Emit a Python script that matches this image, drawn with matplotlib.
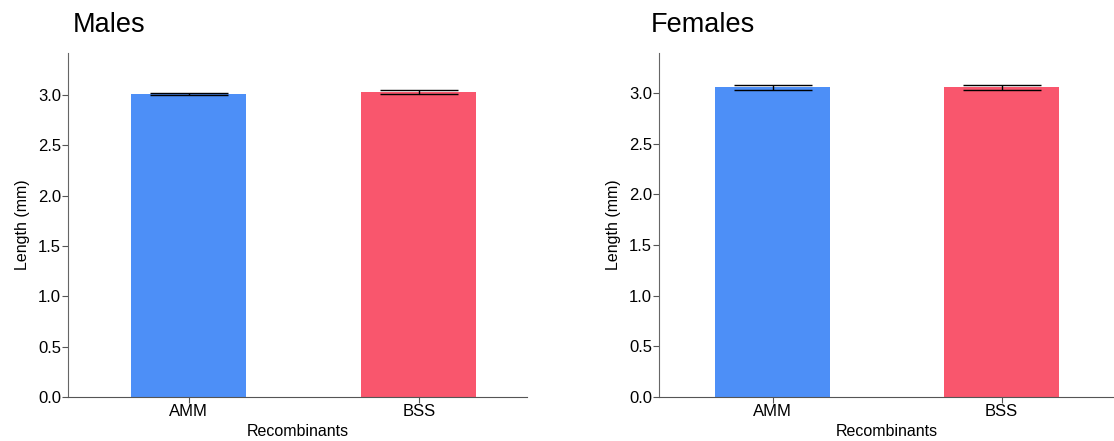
import matplotlib
matplotlib.use("Agg")
import matplotlib.pyplot as plt

plt.rcParams["font.family"] = ["Liberation Sans", "DejaVu Sans"]

# data
groups = ["AMM", "BSS"]
males_mean = [3.01, 3.03]
males_err = [0.013, 0.022]
females_mean = [3.055, 3.055]
females_err = [0.025, 0.022]
colors = ["#4d8ff7", "#f9566d"]

fig = plt.figure(figsize=(11.14, 4.41), dpi=100)
ax1 = fig.add_axes([0.061, 0.0998, 0.412, 0.780])
ax2 = fig.add_axes([0.5916, 0.0998, 0.4085, 0.780])

panels = [(ax1, "Males", males_mean, males_err, (-0.524, 1.47), 3.417, 0.011),
          (ax2, "Females", females_mean, females_err, (-0.496, 1.491), 3.395, -0.018)]

for ax, title, means, errs, xl, ytop, tx in panels:
    x = list(range(len(groups)))
    ax.bar(x, means, width=0.5, color=colors)
    ax.errorbar(x, means, yerr=errs, fmt="none", ecolor="black",
                elinewidth=1, capsize=28, capthick=1)
    ax.set_xlim(*xl)
    ax.set_ylim(0, ytop)
    ax.set_xticks(x)
    ax.set_xticklabels(groups)
    ax.set_yticks([0, 0.5, 1.0, 1.5, 2.0, 2.5, 3.0])
    ax.set_yticklabels(["0.0", "0.5", "1.0", "1.5", "2.0", "2.5", "3.0"])
    ax.tick_params(labelsize=12, length=4, pad=1, color="#555555")
    ax.spines["top"].set_visible(False)
    ax.spines["right"].set_visible(False)
    ax.spines["left"].set_color("#666666")
    ax.spines["bottom"].set_color("#555555")
    ax.set_xlabel("Recombinants", fontsize=11.5, labelpad=4)
    ax.set_ylabel("Length (mm)", fontsize=11.5, labelpad=6)
    ax.set_title(title, fontsize=19.5, loc="left", x=tx, pad=15)

fig.savefig("out.png", dpi=100)
